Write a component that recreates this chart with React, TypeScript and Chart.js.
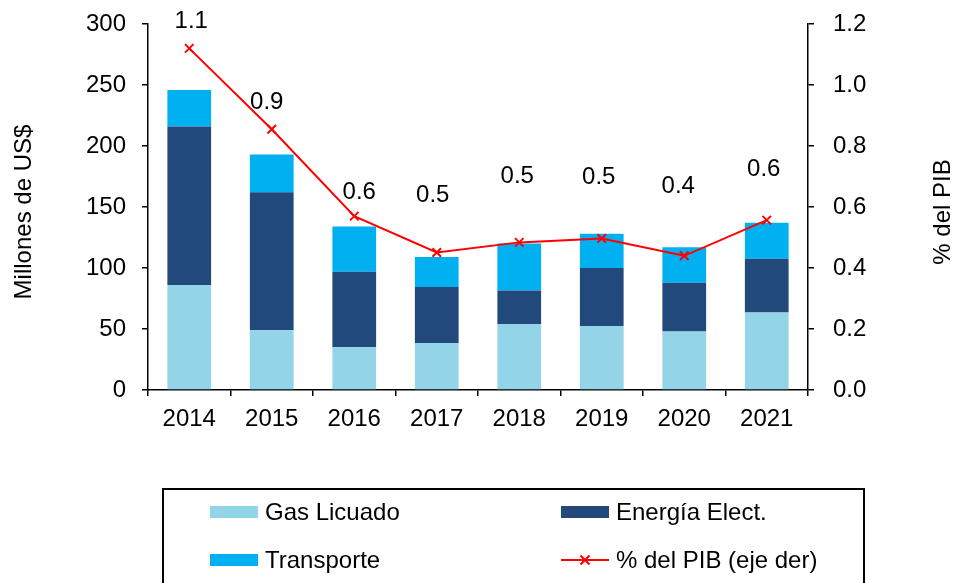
import React, { useEffect, useRef } from "react";
import { Chart, registerables } from "chart.js";

Chart.register(...registerables);

const years = ["2014", "2015", "2016", "2017", "2018", "2019", "2020", "2021"];
const gasLicuado = [86, 49, 35, 38.5, 54, 52.5, 48, 63.5];
const energiaElect = [130, 113, 62, 46, 27.5, 47.5, 40, 44];
const transporte = [30, 31, 37, 24.5, 38.5, 28, 29, 29.5];
const pctPIB = [1.12, 0.855, 0.57, 0.451, 0.484, 0.497, 0.44, 0.557];
const leftTicks = [0, 50, 100, 150, 200, 250, 300];
const rightTicks = [0, 0.2, 0.4, 0.6, 0.8, 1.0, 1.2];

const FONT = "'Liberation Sans', Arial, sans-serif";

const overlayPlugin = {
  id: "overlay",
  afterDatasetsDraw(chart: any, _args: any, opts: any) {
    const ctx = chart.ctx;
    const meta = chart.getDatasetMeta(3);
    ctx.save();
    ctx.font = `24px ${FONT}`;
    ctx.fillStyle = "#000";
    ctx.textAlign = "center";
    ctx.textBaseline = "middle";
    meta.data.forEach((pt: any, i: number) => {
      const v = chart.data.datasets[3].data[i] as number;
      const dy = opts.labelRise[i] ?? 28;
      const dx = opts.labelShift[i] ?? 0;
      ctx.fillText(v.toFixed(1), pt.x + dx, pt.y - dy);
    });
    ctx.restore();
  },
  afterDraw(chart: any) {
    const ctx = chart.ctx;
    const area = chart.chartArea;
    const midY = (area.top + area.bottom) / 2 + 5;
    ctx.save();
    ctx.fillStyle = "#000";
    ctx.font = `24px ${FONT}`;
    ctx.textAlign = "center";
    ctx.textBaseline = "middle";
    ctx.save();
    ctx.translate(24, midY);
    ctx.rotate(-Math.PI / 2);
    ctx.fillText("Millones de US$", 0, 0);
    ctx.restore();
    ctx.save();
    ctx.translate(943, midY);
    ctx.rotate(-Math.PI / 2);
    ctx.fillText("% del PIB", 0, 0);
    ctx.restore();

    ctx.strokeStyle = "#000";
    ctx.lineWidth = 2;
    ctx.strokeRect(163, 489, 701, 140);
    const ds = chart.data.datasets;
    const items = [
      { i: 0, x: 210, y: 512 },
      { i: 1, x: 561, y: 512 },
      { i: 2, x: 210, y: 560 },
      { i: 3, x: 561, y: 560 },
    ];
    ctx.textAlign = "left";
    items.forEach((it) => {
      const d = ds[it.i];
      if (d.type === "line") {
        ctx.strokeStyle = d.borderColor;
        ctx.lineWidth = 2;
        ctx.beginPath();
        ctx.moveTo(it.x, it.y);
        ctx.lineTo(it.x + 48, it.y);
        ctx.stroke();
        const cx = it.x + 24;
        const r = 4.5;
        ctx.beginPath();
        ctx.moveTo(cx - r, it.y - r);
        ctx.lineTo(cx + r, it.y + r);
        ctx.moveTo(cx + r, it.y - r);
        ctx.lineTo(cx - r, it.y + r);
        ctx.stroke();
      } else {
        ctx.fillStyle = d.backgroundColor;
        ctx.fillRect(it.x, it.y - 6, 48, 12);
      }
      ctx.fillStyle = "#000";
      ctx.fillText(d.label, it.x + 55, it.y + 1);
    });
    ctx.restore();
  },
};

export default function App() {
  const ref = useRef<HTMLCanvasElement | null>(null);
  useEffect(() => {
    if (!ref.current) return;
    Chart.defaults.font.family = FONT;
    Chart.defaults.color = "#000";
    const chart = new Chart(ref.current, {
      type: "bar",
      data: {
        labels: years,
        datasets: [
          {
            type: "bar",
            label: "Gas Licuado",
            data: gasLicuado,
            backgroundColor: "#93D4E8",
            yAxisID: "y",
            order: 1,
            barPercentage: 0.53,
            categoryPercentage: 1,
          },
          {
            type: "bar",
            label: "Energía Elect.",
            data: energiaElect,
            backgroundColor: "#21497C",
            yAxisID: "y",
            order: 1,
            barPercentage: 0.53,
            categoryPercentage: 1,
          },
          {
            type: "bar",
            label: "Transporte",
            data: transporte,
            backgroundColor: "#00B0F0",
            yAxisID: "y",
            order: 1,
            barPercentage: 0.53,
            categoryPercentage: 1,
          },
          {
            type: "line",
            label: "% del PIB (eje der)",
            data: pctPIB,
            borderColor: "#FF0000",
            backgroundColor: "#FF0000",
            borderWidth: 2,
            pointStyle: "crossRot",
            pointRadius: 6,
            pointBorderWidth: 2,
            pointBorderColor: "#FF0000",
            yAxisID: "y1",
            order: 0,
            tension: 0,
          } as any,
        ],
      },
      options: {
        responsive: false,
        animation: false,
        layout: { padding: { top: 24, left: 0, right: 0, bottom: 0 } },
        plugins: {
          legend: { display: false },
          tooltip: { enabled: false },
          overlay: {
            labelRise: [27, 27, 24, 57, 66, 61, 69, 51],
            labelShift: [2, -5, 5, -4, -2, -3, -6, -3],
          },
        } as any,
        scales: {
          x: {
            stacked: true,
            grid: {
              display: true,
              drawOnChartArea: false,
              drawTicks: true,
              tickLength: 6,
              color: "#000",
              lineWidth: 1.5,
            },
            border: { display: true, color: "#000", width: 1.5 },
            ticks: { font: { size: 24 }, padding: 9, color: "#000" },
            afterFit: (s: any) => {
              s.height = 583 - 390;
              s.paddingLeft = 0;
              s.paddingRight = 0;
            },
          },
          y: {
            stacked: true,
            position: "left",
            min: 0,
            max: 300,
            afterBuildTicks: (s: any) => {
              s.ticks = leftTicks.map((v) => ({ value: v }));
            },
            grid: {
              display: true,
              drawOnChartArea: false,
              drawTicks: true,
              tickLength: 6,
              color: "#000",
              lineWidth: 1.5,
            },
            border: { display: true, color: "#000", width: 1.5 },
            ticks: { font: { size: 24 }, padding: 16, color: "#000" },
            afterFit: (s: any) => {
              s.width = 148;
              s.paddingTop = 0;
              s.paddingBottom = 0;
            },
          },
          y1: {
            position: "right",
            min: 0,
            max: 1.2,
            afterBuildTicks: (s: any) => {
              s.ticks = rightTicks.map((v) => ({ value: v }));
            },
            grid: {
              display: true,
              drawOnChartArea: false,
              drawTicks: true,
              tickLength: 6,
              color: "#000",
              lineWidth: 1.5,
            },
            border: { display: true, color: "#000", width: 1.5 },
            ticks: {
              font: { size: 24 },
              padding: 19,
              color: "#000",
              callback: (v: any) => Number(v).toFixed(1),
            },
            afterFit: (s: any) => {
              s.width = 956 - 808;
              s.paddingTop = 0;
              s.paddingBottom = 0;
            },
          },
        },
      },
      plugins: [overlayPlugin],
    });
    return () => chart.destroy();
  }, []);
  return (
    <div style={{ position: "absolute", left: 0, top: 0, width: 956, height: 583, background: "#fff" }}>
      <canvas ref={ref} width={956} height={583} />
    </div>
  );
}
